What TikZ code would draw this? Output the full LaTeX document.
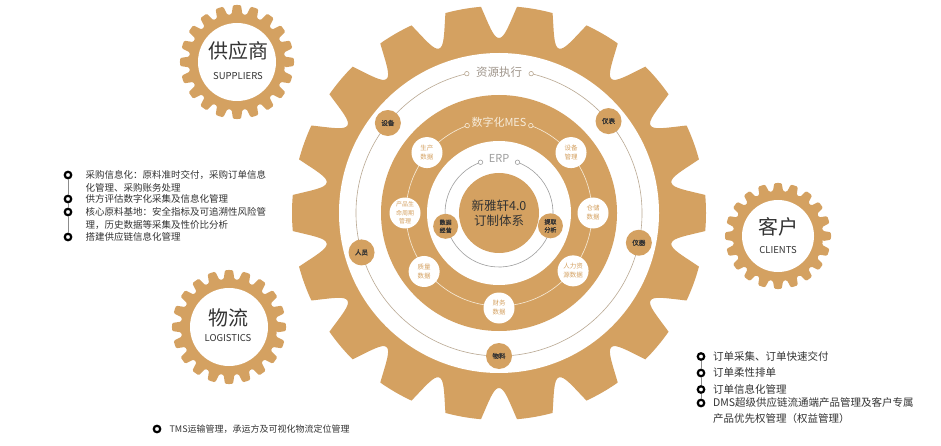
\documentclass[tikz,border=0pt]{standalone}
\usepackage{fontspec}
\setmainfont{Noto Sans CJK SC}[AutoFakeBold=1.5]
\usepackage{xcolor}
\usetikzlibrary{positioning,calc}
\definecolor{gold}{RGB}{212,161,97}
\definecolor{ink}{RGB}{51,51,51}
\definecolor{ringgray}{RGB}{185,168,146}
\definecolor{labelgray}{RGB}{160,150,140}
\definecolor{cream}{RGB}{247,236,218}
\definecolor{erpgray}{RGB}{158,158,158}

\begin{document}
\begin{tikzpicture}[
    x=1pt, y=-1pt,
    hub/.style={circle, fill=gold, inner sep=0, minimum size=80pt, align=center, text=ink, font=\fontsize{12.5}{15}\selectfont},
    rnode/.style={circle, fill=gold, inner sep=0, minimum size=26pt, text=ink, font=\fontsize{6.5}{8}\selectfont\bfseries},
    mnode/.style={circle, fill=white, inner sep=0, minimum size=31pt, align=center, text=gold, font=\fontsize{6.5}{9}\selectfont},
    enode/.style={circle, fill=gold, inner sep=0, minimum size=25pt, align=center, text=ink, font=\fontsize{6}{8}\selectfont\bfseries},
    endring/.style={circle, draw=#1, line width=0.6pt, inner sep=0, minimum size=4.5pt},
    cnlabel/.style={text=ink, inner sep=0, font=\fontsize{20}{20}\selectfont},
    enlabel/.style={text=ink, inner sep=0, font=\fontsize{9.5}{10}\selectfont},
    bul/.style={circle, draw=black, line width=2.2pt, fill=white, inner sep=0, minimum size=6.5pt},
    stem/.style={draw=black!45, line width=0.8pt},
    litem/.style={anchor=west, inner sep=0, align=left, text=ink, font=\fontsize{9.5}{13}\selectfont},
    ritem/.style={anchor=west, inner sep=0, align=left, text=ink, font=\fontsize{10.5}{15.5}\selectfont},
    bitem/.style={anchor=west, inner sep=0, align=left, text=ink, font=\fontsize{9}{11}\selectfont}
]
    \useasboundingbox (0,0) rectangle (941,446);
    \fill[white] (0,0) rectangle (941,446);

    % big gear
    \begin{scope}[shift={(499,213)}]
        \fill[gold] (-5:207pt) \foreach \a in {0,20,...,340}{
            arc[start angle=\a-5, end angle=\a+5, radius=207pt]
            .. controls (\a+7:188pt) and (\a+8.2:175pt) .. (\a+10:175pt)
            .. controls (\a+11.8:175pt) and (\a+13:188pt) .. (\a+15:207pt)} -- cycle;
        \fill[white] (0,0) circle[radius=160pt];
        \fill[gold] (0,0) circle[radius=118pt];
        \fill[white] (0,0) circle[radius=72pt];

        % outer ring
        \draw[ringgray, line width=0.6pt] (103:143pt) arc[start angle=103, end angle=437, radius=143pt];
        \node[endring=ringgray, fill=white] (ra) at (103:143pt) {};
        \node[endring=ringgray, fill=white] (rb) at (77:143pt) {};
        \node[text=labelgray, font=\fontsize{11.5}{12}\selectfont] (rt) at (90:141pt) {资源执行};
        \node[rnode] (r1) at (141:143pt) {设备};
        \node[rnode] (r2) at (40:143pt) {仪表};
        \node[rnode] (r3) at (196:143pt) {人员};
        \node[rnode] (r4) at (-12:143pt) {仪器};
        \node[rnode] (r5) at (-90:143pt) {物料};

        % MES ring
        \draw[cream, line width=0.6pt] (110:93pt) arc[start angle=110, end angle=430, radius=93pt];
        \node[endring=cream, fill=gold] (ma) at (110:93pt) {};
        \node[endring=cream, fill=gold] (mb) at (70:93pt) {};
        \node[text=cream, font=\fontsize{11}{12}\selectfont] (mt) at (90:91pt) {数字化MES};
        \node[mnode] (m1) at (140:94pt) {生产\\数据};
        \node[mnode] (m2) at (40:94pt) {设备\\管理};
        \node[mnode, font=\fontsize{6}{8.5}\selectfont] (m3) at (180:94pt) {产品生\\命周期\\管理};
        \node[mnode] (m4) at (0:94pt) {仓储\\数据};
        \node[mnode] (m5) at (218:95pt) {质量\\数据};
        \node[mnode] (m6) at (-38:94pt) {人力资\\源数据};
        \node[mnode] (m7) at (-90:95pt) {财务\\数据};

        % ERP ring
        \draw[erpgray, line width=0.6pt] (110:54pt) arc[start angle=110, end angle=430, radius=54pt];
        \node[endring=erpgray, fill=white] (ea) at (110:54pt) {};
        \node[endring=erpgray, fill=white] (eb) at (70:54pt) {};
        \node[text=erpgray, font=\fontsize{11}{12}\selectfont] (et) at (90:55pt) {ERP};
        \node[enode] (e1) at (194:55pt) {数据\\经营};
        \node[enode] (e2) at (-14:53pt) {提取\\分析};

        \node[hub] (g0) at (0,0) {新雅轩4.0\\订制体系};
    \end{scope}

    % small gears
    \foreach \gx/\gy/\ro/\ri/\rw in {237/62/57pt/48pt/39pt, 778/236/53pt/45pt/36pt, 229/327/57pt/48pt/39pt}{
        \begin{scope}[shift={(\gx,\gy)}]
            \fill[gold, rounded corners=1.2pt] (-6.5:\ri) \foreach \b in {0,18,...,342}{
                -- (\b-4:\ro) arc[start angle=\b-4, end angle=\b+4, radius=\ro]
                -- (\b+6.5:\ri) arc[start angle=\b+6.5, end angle=\b+11.5, radius=\ri]} -- cycle;
            \fill[white] (0,0) circle[radius=\rw];
        \end{scope}
    }
    \node[cnlabel] (gs) at (238,51) {供应商};
    \node[enlabel] (gse) at (238,76) {SUPPLIERS};
    \node[cnlabel] (gc) at (778,227) {客户};
    \node[enlabel] (gce) at (778,250) {CLIENTS};
    \node[cnlabel] (gl) at (228,318) {物流};
    \node[enlabel] (gle) at (228,338) {LOGISTICS};

    % supplier list
    \node[bul] (s1) at (68,175) {};
    \node[bul] (s2) at (68,199) {};
    \node[bul] (s3) at (68,212) {};
    \node[bul] (s4) at (68,237) {};
    \draw[stem] (s1) -- (s2);
    \draw[stem] (s2) -- (s3);
    \draw[stem] (s3) -- (s4);
    \node[litem, right=13pt of s1, yshift=-6.5pt] (t1) {采购信息化：原料准时交付，采购订单信息\\化管理、采购账务处理};
    \node[litem, right=13pt of s2] (t2) {供方评估数字化采集及信息化管理};
    \node[litem, right=13pt of s3, yshift=-6.5pt] (t3) {核心原料基地：安全指标及可追溯性风险管\\理，历史数据等采集及性价比分析};
    \node[litem, right=13pt of s4] (t4) {搭建供应链信息化管理};

    % client list
    \node[bul] (c1) at (701,356.5) {};
    \node[bul] (c2) at (701,373) {};
    \node[bul] (c3) at (701,389.5) {};
    \node[bul] (c4) at (701,403) {};
    \draw[stem] (c1) -- (c2);
    \draw[stem] (c2) -- (c3);
    \draw[stem] (c3) -- (c4);
    \node[ritem, right=7.5pt of c1] (u1) {订单采集、订单快速交付};
    \node[ritem, right=7.5pt of c2] (u2) {订单柔性排单};
    \node[ritem, right=7.5pt of c3] (u3) {订单信息化管理};
    \node[ritem, right=7.5pt of c4, yshift=-7.75pt] (u4) {DMS超级供应链流通端产品管理及客户专属\\产品优先权管理（权益管理）};

    % logistics list
    \node[bul] (l1) at (157,429) {};
    \node[bitem, right=8pt of l1] (v1) {TMS运输管理，承运方及可视化物流定位管理};
\end{tikzpicture}
\end{document}
